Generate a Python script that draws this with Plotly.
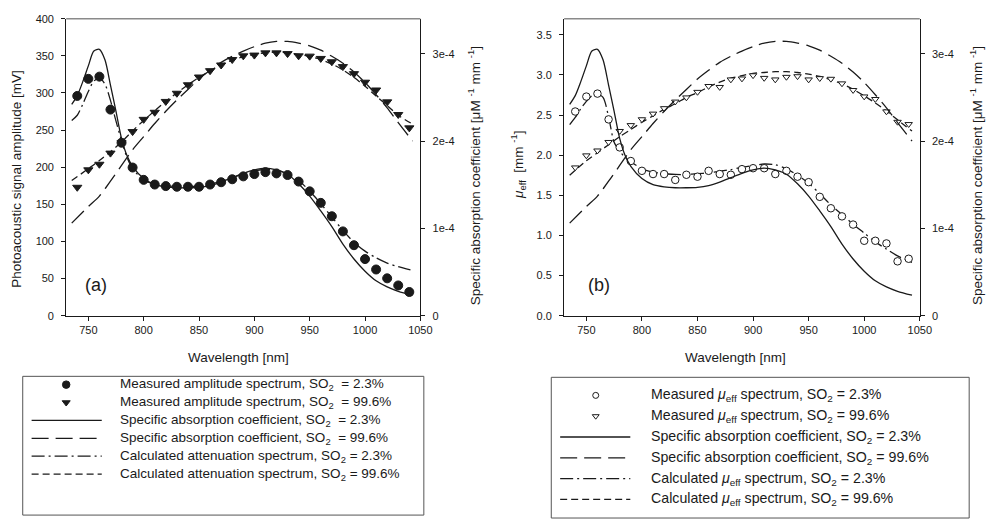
import plotly.graph_objects as go

W, H = 996, 525
FONT = "Liberation Sans, Arial, Helvetica, sans-serif"
INK = "#1a1a1a"

# ---------------------------------------------------------------- data
# wavelength grids [nm]
wl_meas = list(range(740, 1041, 10))
wl_peak = [735, 740, 745, 750, 755, 760, 765, 770, 775, 780, 785, 790] + list(range(800, 1031, 10)) + [1043]
wl_smooth = [735] + list(range(750, 1031, 10)) + [1043]

# specific absorption coefficients, in units of 1e-4 uM^-1 mm^-1
eps_unit = 1e-4
eps_so2_low = [2.42, 2.52, 2.68, 2.86, 3.03, 3.05, 2.93, 2.64, 2.34, 2.03, 1.83, 1.71,
               1.57, 1.50, 1.475, 1.465, 1.465, 1.47, 1.49, 1.53, 1.58, 1.63,
               1.67, 1.69, 1.67, 1.62, 1.51, 1.37, 1.20, 1.02, 0.82, 0.65,
               0.51, 0.40, 0.33, 0.28, 0.235]
eps_so2_high = [1.06, 1.25, 1.37, 1.54, 1.72, 1.90,
                2.05, 2.20, 2.34, 2.47, 2.59, 2.71, 2.81, 2.90, 2.97, 3.03,
                3.08, 3.12, 3.14, 3.14, 3.12, 3.09, 3.04, 2.97, 2.89, 2.79,
                2.67, 2.53, 2.38, 2.21, 2.00]

# (a) photoacoustic amplitude [mV]
amp_meas_low = [296, 319, 322, 277.6, 233, 199.6, 183, 176.7, 174.6, 173.7, 173.7,
                173.7, 176.7, 179.8, 183.8, 187.7, 190.8, 193.4, 191.7, 189.5, 180.7,
                167.5, 152, 134, 113.6, 95, 76.3, 62.3, 50.4, 40.8, 32]
amp_meas_high = [173, 196.5, 204, 219, 233, 248, 264.5, 274, 288.6, 299.6, 311,
                 321.5, 330, 337.7, 345, 350, 351, 354, 354, 353, 350,
                 349.6, 346.5, 342, 335.5, 326, 314.5, 304, 288, 271, 253]
amp_calc_low = [263, 270, 285, 302, 316, 320, 312, 290, 262, 236, 213, 198,
                183, 177, 175, 174, 174, 174.5, 177, 181, 186, 191,
                195, 197, 196, 191, 182, 168, 151, 133, 115, 99,
                87, 78, 71, 66, 61]
amp_calc_high = [182, 198, 209, 221, 234, 249,
                 263, 276, 289, 300, 311, 321, 330, 338, 344, 349,
                 352, 354, 355, 354, 352, 349, 345, 339, 331, 321,
                 309, 296, 283, 270, 258]

# (b) effective attenuation coefficient [mm^-1]
mu_meas_low = [2.544, 2.73, 2.767, 2.446, 2.097, 1.927, 1.805, 1.765, 1.765, 1.692, 1.756,
               1.732, 1.805, 1.765, 1.756, 1.826, 1.838, 1.838, 1.765, 1.805, 1.732,
               1.664, 1.481, 1.339, 1.238, 1.136, 0.934, 0.934, 0.901, 0.678, 0.71]
mu_meas_high = [1.846, 1.996, 2.057, 2.163, 2.30, 2.373, 2.446, 2.516, 2.584, 2.666, 2.718,
                2.787, 2.86, 2.848, 2.942, 2.954, 2.994, 2.961, 2.942, 2.974, 2.982,
                2.942, 2.958, 2.95, 2.893, 2.81, 2.73, 2.698, 2.544, 2.414, 2.386]
mu_calc_low = [2.38, 2.47, 2.58, 2.67, 2.74, 2.76, 2.72, 2.48, 2.16, 2.05, 1.97, 1.92,
               1.83, 1.79, 1.77, 1.76, 1.76, 1.77, 1.78, 1.80, 1.82, 1.85,
               1.87, 1.89, 1.88, 1.83, 1.75, 1.65, 1.52, 1.38, 1.26, 1.14,
               1.03, 0.92, 0.83, 0.745, 0.665]
mu_calc_high = [1.75, 1.93, 2.03, 2.13, 2.23, 2.32,
                2.41, 2.49, 2.57, 2.64, 2.72, 2.78, 2.85, 2.91, 2.96, 2.99,
                3.02, 3.03, 3.04, 3.04, 3.03, 3.01, 2.98, 2.94, 2.89, 2.82,
                2.74, 2.65, 2.55, 2.44, 2.30]

x_ticks = [750, 800, 850, 900, 950, 1000, 1050]
amp_ticks = list(range(0, 401, 50))
mu_ticks = [0.0, 0.5, 1.0, 1.5, 2.0, 2.5, 3.0, 3.5]
eps_ticks = [0, 1e-4, 2e-4, 3e-4]
eps_ticktext = ["0", "1e-4", "2e-4", "3e-4"]

legend_a = [
    "Measured amplitude spectrum, SO<sub>2</sub>&nbsp; = 2.3%",
    "Measured amplitude spectrum, SO<sub>2</sub>&nbsp; = 99.6%",
    "Specific absorption coefficient, SO<sub>2</sub>&nbsp; = 2.3%",
    "Specific absorption coefficient, SO<sub>2</sub>&nbsp; = 99.6%",
    "Calculated attenuation spectrum, SO<sub>2</sub> = 2.3%",
    "Calculated attenuation spectrum, SO<sub>2</sub> = 99.6%",
]
legend_b = [
    "Measured <i>μ</i><sub>eff</sub> spectrum, SO<sub>2</sub> = 2.3%",
    "Measured <i>μ</i><sub>eff</sub> spectrum, SO<sub>2</sub> = 99.6%",
    "Specific absorption coefficient, SO<sub>2</sub> = 2.3%",
    "Specific absorption coefficient, SO<sub>2</sub> = 99.6%",
    "Calculated <i>μ</i><sub>eff</sub> spectrum, SO<sub>2</sub> = 2.3%",
    "Calculated <i>μ</i><sub>eff</sub> spectrum, SO<sub>2</sub> = 99.6%",
]

# ---------------------------------------------------------------- styles
LW = 1.3
DASH_LONG = "17px,7px"
DASH_SHORT = "7px,4px"
DASH_DOT = "13px,4px,2px,4px"

def px_x(v):
    return v / W

def px_y(v):
    return 1 - v / H

fig = go.Figure()

eps_low = [v * eps_unit for v in eps_so2_low]
eps_high = [v * eps_unit for v in eps_so2_high]

def line(x, y, xa, ya, dash):
    fig.add_trace(go.Scatter(x=x, y=y, xaxis=xa, yaxis=ya, mode="lines",
                             line=dict(color=INK, width=LW, dash=dash, shape="spline", smoothing=0.8),
                             showlegend=False, hoverinfo="skip"))

def marks(x, y, xa, ya, symbol, size, fill):
    fig.add_trace(go.Scatter(x=x, y=y, xaxis=xa, yaxis=ya, mode="markers",
                             marker=dict(symbol=symbol, size=size, color=fill,
                                         line=dict(color=INK, width=1)),
                             showlegend=False, hoverinfo="skip"))

# panel (a)
line(wl_peak, eps_low, "x", "y2", "solid")
line(wl_smooth, eps_high, "x", "y2", DASH_LONG)
line(wl_peak, amp_calc_low, "x", "y", DASH_DOT)
line(wl_smooth, amp_calc_high, "x", "y", DASH_SHORT)
marks(wl_meas, amp_meas_high, "x", "y", "triangle-down", 8, INK)
marks(wl_meas, amp_meas_low, "x", "y", "circle", 9, INK)

# panel (b)
line(wl_peak, eps_low, "x2", "y4", "solid")
line(wl_smooth, eps_high, "x2", "y4", DASH_LONG)
line(wl_peak, mu_calc_low, "x2", "y3", DASH_DOT)
line(wl_smooth, mu_calc_high, "x2", "y3", DASH_SHORT)
marks(wl_meas, mu_meas_high, "x2", "y3", "triangle-down", 6.5, "white")
marks(wl_meas, mu_meas_low, "x2", "y3", "circle", 7.5, "white")

# ---------------------------------------------------------------- legend boxes
keys = [
    ("marker", "circle"), ("marker", "triangle-down"),
    ("line", "solid"), ("line", DASH_LONG), ("line", DASH_DOT), ("line", DASH_SHORT),
]
legend_boxes = [
    dict(labels=legend_a, box=(23, 379, 429, 521), key=(32, 103), sym=67, text=119,
         row0=387.5, step=18.3, fsize=13.5, msize=(7.5, 7), fill=INK),
    dict(labels=legend_b, box=(558, 380, 981, 524), key=(567, 638), sym=603, text=657,
         row0=398.5, step=21.3, fsize=14.2, msize=(6, 6), fill="white"),
]

shapes = []
annotations = []
for lg in legend_boxes:
    bx0, by0, bx1, by1 = lg["box"]
    shapes.append(dict(type="rect", xref="paper", yref="paper",
                       x0=px_x(bx0), x1=px_x(bx1), y0=px_y(by1), y1=px_y(by0),
                       line=dict(color="#555", width=1), fillcolor="rgba(0,0,0,0)"))
    for i, ((kind, style), label) in enumerate(zip(keys, lg["labels"])):
        ry = lg["row0"] + i * lg["step"]
        if kind == "marker":
            size = lg["msize"][0] if style == "circle" else lg["msize"][1]
            fig.add_trace(go.Scatter(x=[lg["sym"]], y=[ry], xaxis="x5", yaxis="y5", mode="markers",
                                     marker=dict(symbol=style, size=size, color=lg["fill"],
                                                 line=dict(color=INK, width=1)),
                                     showlegend=False, hoverinfo="skip"))
        else:
            fig.add_trace(go.Scatter(x=list(lg["key"]), y=[ry, ry], xaxis="x5", yaxis="y5", mode="lines",
                                     line=dict(color=INK, width=LW, dash=style),
                                     showlegend=False, hoverinfo="skip"))
        annotations.append(dict(xref="paper", yref="paper", x=px_x(lg["text"]), y=px_y(ry),
                                xanchor="left", yanchor="middle", showarrow=False, text=label,
                                font=dict(family=FONT, size=lg["fsize"], color=INK)))

# ---------------------------------------------------------------- axes
PLOT_TOP, PLOT_BOT = 13, 317
A_X0, A_X1 = 67, 425.5
B_X0, B_X1 = 571, 931
ydom = [px_y(PLOT_BOT), px_y(PLOT_TOP)]

common = dict(showline=True, linecolor=INK, linewidth=1, ticks="outside", ticklen=4,
              tickcolor=INK, tickwidth=1, showgrid=False, zeroline=False, fixedrange=True,
              tickfont=dict(family=FONT, size=11, color=INK))

for x0, x1 in [(A_X0, A_X1), (B_X0, B_X1)]:
    shapes.append(dict(type="line", xref="paper", yref="paper", x0=px_x(x0), x1=px_x(x1),
                       y0=px_y(PLOT_TOP), y1=px_y(PLOT_TOP), line=dict(color="#8a8a8a", width=1.5)))

titles = [
    ("Photoacoustic signal amplitude [mV]", 17, 177, -90),
    ("Wavelength [nm]", 241, 360, 0),
    ("Specific absorption coefficient [μM <sup>-1</sup> mm <sup>-1</sup>]", 480, 174, -90),
    ("<i>μ</i><sub>eff</sub>&nbsp; [mm <sup>-1</sup>]", 525, 163, -90),
    ("Wavelength [nm]", 744, 360, 0),
    ("Specific absorption coefficient [μM <sup>-1</sup> mm <sup>-1</sup>]", 988, 174, -90),
]
for text, x, y, ang in titles:
    annotations.append(dict(xref="paper", yref="paper", x=px_x(x), y=px_y(y), xanchor="center",
                            yanchor="middle", showarrow=False, text=text, textangle=ang,
                            font=dict(family=FONT, size=13.5, color=INK)))
for text, x in [("(a)", 97), ("(b)", 606)]:
    annotations.append(dict(xref="paper", yref="paper", x=px_x(x), y=px_y(286), xanchor="center",
                            yanchor="middle", showarrow=False, text=text,
                            font=dict(family=FONT, size=18, color=INK)))

fig.update_layout(
    width=W, height=H, margin=dict(l=0, r=0, t=0, b=0),
    paper_bgcolor="white", plot_bgcolor="rgba(0,0,0,0)", showlegend=False,
    font=dict(family=FONT, color=INK),
    xaxis=dict(common, domain=[px_x(A_X0), px_x(A_X1)], anchor="y", range=[730, 1050], tickvals=x_ticks),
    yaxis=dict(common, domain=ydom, anchor="x", range=[0, 400], tickvals=amp_ticks, ticklabelstandoff=5),
    yaxis2=dict(common, overlaying="y", anchor="x", side="right", range=[0, 3.4e-4],
                tickvals=eps_ticks, ticktext=eps_ticktext, ticklabelstandoff=5),
    xaxis2=dict(common, domain=[px_x(B_X0), px_x(B_X1)], anchor="y3", range=[730, 1050], tickvals=x_ticks),
    yaxis3=dict(common, domain=ydom, anchor="x2", range=[0, 3.7], tickvals=mu_ticks,
                ticktext=[f"{v:.1f}" for v in mu_ticks], ticklabelstandoff=5),
    yaxis4=dict(common, overlaying="y3", anchor="x2", side="right", range=[0, 3.4e-4],
                tickvals=eps_ticks, ticktext=eps_ticktext, ticklabelstandoff=5),
    xaxis5=dict(domain=[0, 1], range=[0, W], visible=False, fixedrange=True, anchor="y5"),
    yaxis5=dict(domain=[0, 1], range=[H, 0], visible=False, fixedrange=True, anchor="x5"),
    shapes=shapes, annotations=annotations,
)

fig.write_html("out.html")
